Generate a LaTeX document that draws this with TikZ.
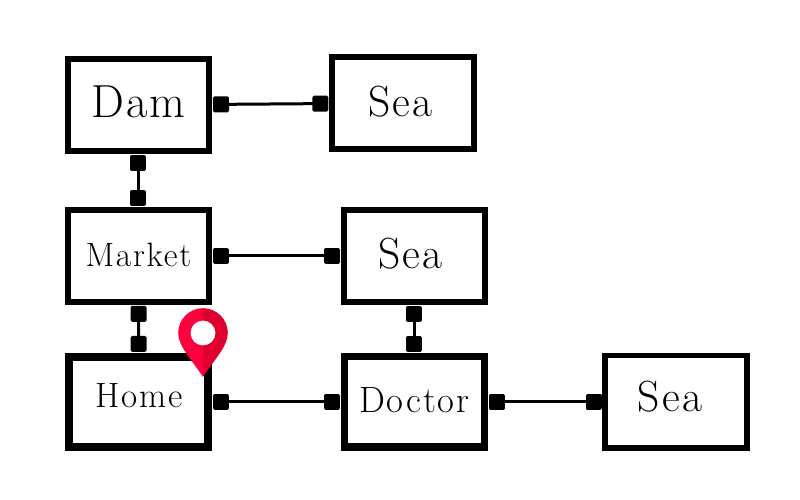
\documentclass[tikz,border=0pt]{standalone}
\usepackage{fontspec}
\setmainfont{Latin Modern Roman}[LetterSpace=5]
\usepackage{tikz}
\usetikzlibrary{arrows.meta,calc}
\colorlet{cbox}{black}
\definecolor{cpinl}{HTML}{FF003C}
\definecolor{cpinr}{HTML}{E0002F}
\tikzset{
  place/.style={draw=cbox, fill=white, line width=0.15cm, minimum width=3.54cm, minimum height=2.3cm,
                inner sep=0pt, font=\fontsize{#1}{#1}\selectfont},
  link/.style={{Square[length=0.4cm,width=0.4cm,line width=0.08cm,round]}-{Square[length=0.4cm,width=0.4cm,line width=0.08cm,round]},
               line width=0.075cm, cbox, shorten >=0.02cm, shorten <=0.02cm},
}
\begin{document}
\begin{tikzpicture}[x=1cm, y=1cm]
\useasboundingbox (0,0) rectangle (20,12.5);
\node[place=33, text depth=0.18cm] (dam) at (3.46,9.875) {Dam};
\node[place=31, text depth=0.1cm] (sea1) at (10.075,9.925) {Sea\kern0.14cm};
\node[place=24, text depth=0.05cm] (market) at (3.46,6.1) {Market};
\node[place=31, text depth=0.12cm] (sea2) at (10.36,6.1) {Sea\kern0.2cm};
\node[place=25, line width=0.2cm, minimum width=3.47cm, minimum height=2.25cm, text depth=0.28cm] (home) at (3.47,2.46) {Home};
\node[place=26, line width=0.18cm, minimum width=3.5cm, minimum height=2.27cm, text depth=0.08cm] (doctor) at (10.36,2.46) {Doctor};
\node[place=31, line width=0.13cm, minimum width=3.55cm, minimum height=2.32cm, text depth=0.28cm] (sea3) at (16.9,2.46) {Sea\kern0.3cm};
% connectors
\draw[link] (dam) -- (sea1);
\draw[link] (dam) -- (market);
\draw[link] (market) -- (sea2);
\draw[link] (market) -- (home);
\draw[link] (sea2) -- (doctor);
\draw[link] (home) -- (doctor);
\draw[link] (doctor) -- (sea3);
% pin
\coordinate (pin) at (5.075,4.175);
\coordinate (pintip) at (5.075,3.075);
\fill[cpinl] (pintip) .. controls (4.8,3.5) and (4.45,3.85) .. (4.455,4.175) arc[start angle=180, end angle=90, radius=0.62] -- cycle;
\fill[cpinr] (pintip) .. controls (5.35,3.5) and (5.7,3.85) .. (5.695,4.175) arc[start angle=0, end angle=90, radius=0.62] -- cycle;
\node[circle, fill=white, minimum size=0.62cm, inner sep=0pt] (pinhole) at (pin) {};
\end{tikzpicture}
\end{document}
